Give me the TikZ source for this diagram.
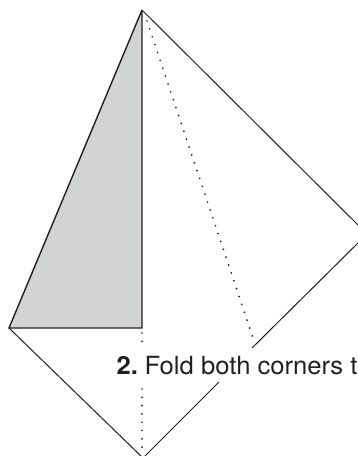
\documentclass[tikz,border=0pt]{standalone}
\usepackage{fontspec}
\setmainfont[FakeStretch=1.025]{TeX Gyre Heros}
\definecolor{ink}{HTML}{231F20}
\definecolor{fold}{HTML}{D1D3D4}
\tikzset{
  edge/.style={draw=ink,line width=1pt},
  crease/.style={draw=ink,line width=1.9pt,line cap=round,dash pattern=on 0pt off 8.3pt},
  caption/.style={anchor=base west,inner sep=0pt,text=ink,font=\fontsize{25}{27}\selectfont}
}
\begin{document}
\begin{tikzpicture}[x=1pt,y=-1pt]
\useasboundingbox (0,0) rectangle (358,456);
\clip (0,0) rectangle (358,456);
\coordinate (top) at (142,10);
\coordinate (left) at (9,328);
\coordinate (mid) at (142,328);
\coordinate (right) at (359,226);
\coordinate (rightb) at (359,242);
\coordinate (bottom) at (143,458);
\coordinate (foot) at (252,348);
\coordinate (resume) at (219,382);
\coordinate (d1) at (147,21);
\coordinate (d2) at (253,338);
\coordinate (v1) at (142,333);
\coordinate (v2) at (142,347);
\coordinate (v3) at (142,389);
\coordinate (v4) at (142,452);
\path[fill=fold] (top) -- (left) -- (mid) -- cycle;
\draw[edge,line width=1.4pt] (top) -- (left) -- (mid) -- (top);
\draw[edge] (top) -- (right);
\draw[edge] (rightb) -- (foot);
\draw[edge] (resume) -- (bottom) -- (left);
\draw[crease] (d1) -- (d2);
\draw[crease] (v1) -- (v2);
\draw[crease] (v3) -- (v4);
\node[caption] (cap) at (116.5,374) {\textbf{2.}\hspace{-3pt} Fold both corners to};
\end{tikzpicture}
\end{document}
